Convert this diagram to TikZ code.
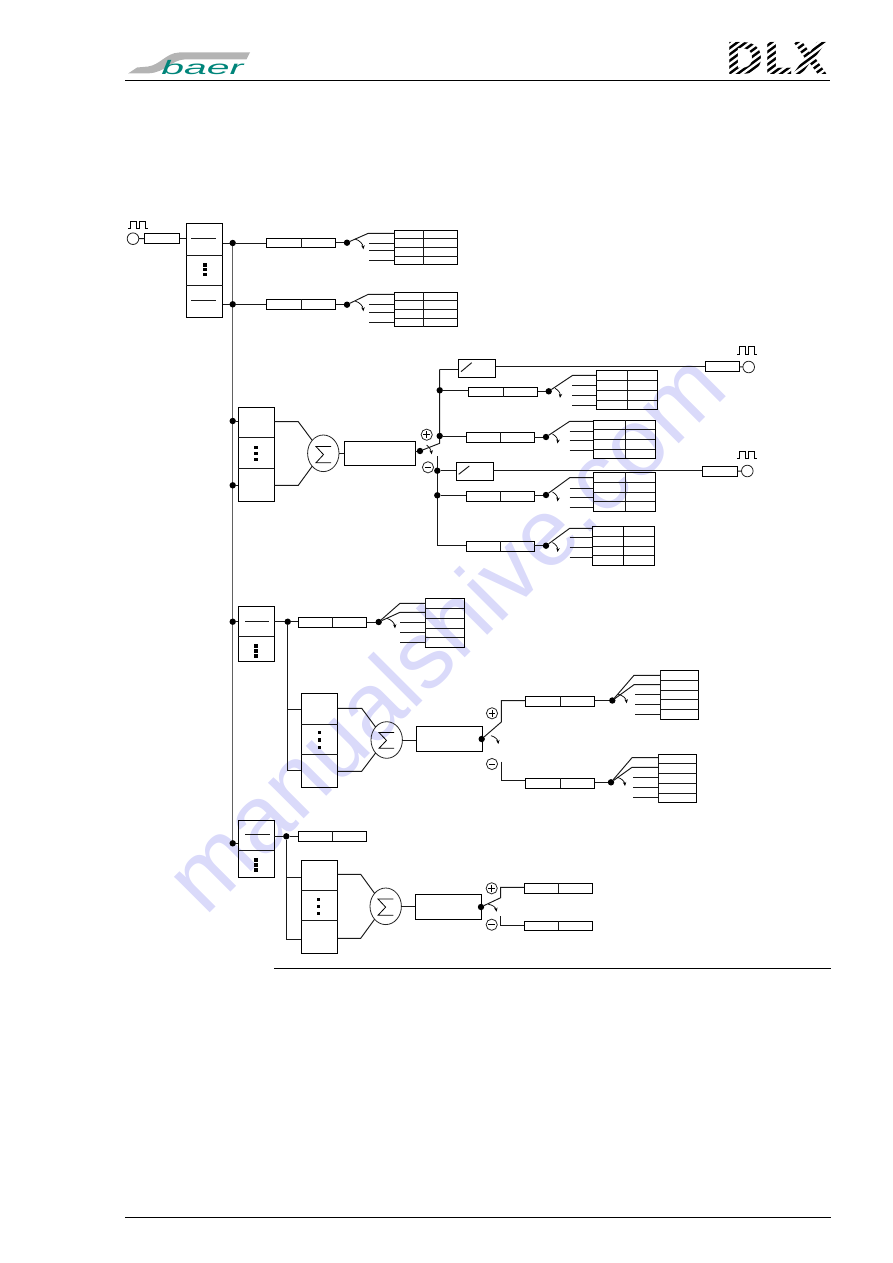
\documentclass[tikz,border=0pt]{standalone}
\usepackage{fontspec}
\setmainfont{Liberation Sans}
\newfontfamily\blockfont{DejaVu Sans}
\usetikzlibrary{arrows.meta,shapes.geometric}
\definecolor{tealbaer}{HTML}{00857A}
\definecolor{swoosh}{HTML}{B4B4B4}
\definecolor{wmark}{HTML}{DADAFA}
\tikzset{
  wire/.style={line width=0.95pt,black!90},
  cell/.style={draw=black,line width=1pt,rectangle,inner sep=0pt,outer sep=0pt,fill=none},
  junction/.style={circle,fill=black,inner sep=0pt,outer sep=0pt,minimum size=6.4pt},
  summer/.style={draw=black!85,line width=0.8pt,ellipse,inner sep=0pt,outer sep=0pt,minimum width=31.4pt,minimum height=36.6pt},
  lamp/.style={draw=black!85,line width=0.8pt,circle,inner sep=0pt,outer sep=0pt,minimum size=11.6pt},
  sign/.style={draw=black!85,line width=0.8pt,circle,inner sep=0pt,outer sep=0pt,minimum size=11.2pt},
  turn/.style={line width=0.7pt,black,-{Stealth[length=4pt,width=3.4pt]}},
  ticksq/.style={fill=black,inner sep=0pt,outer sep=0pt,rectangle},
}
% rectangle node given by its corners: name, x1, y1, x2, y2
\newcommand\boxat[5]{%
  \pgfmathsetmacro\bw{#4-(#2)}\pgfmathsetmacro\bh{#5-(#3)}%
  \node[cell,anchor=north west,minimum width=\bw pt,minimum height=\bh pt] (#1) at (#2,#3) {};}
% two-part register: name, x1, xdiv, x2, y1, y2
\newcommand\regbox[6]{%
  \boxat{#1}{#2}{#5}{#4}{#6}
  \draw[wire] (#3,#5) -- (#3,#6);}
% selector table: name, x1, xdiv, x2, y1, y2, then list of inner rows
\newcommand\tabbox[7]{%
  \boxat{#1}{#2}{#5}{#4}{#6}
  \draw[wire] (#3,#5) -- (#3,#6);
  \foreach \ry in {#7} {\draw[wire] (#2,\ry) -- (#4,\ry);}}
% pulse train symbol: left x, top y, bottom y
\newcommand\pulses[3]{%
  \draw[line width=0.8pt] (#1,#3) -- ++(1.7,0) -- (#1+1.7,#2) -- (#1+8,#2) -- (#1+8,#3) -- (#1+10.7,#3)
    -- (#1+10.7,#2) -- (#1+17,#2) -- (#1+17,#3) -- (#1+19.4,#3);}
% sigma glyph: x1, y1, x2, y2
\newcommand\sigmamark[4]{%
  \draw[line width=0.8pt,line join=miter] (#3,#2) -- (#1,#2) -- ({(#1+#3)/2},{(#2+#4)/2}) -- (#1,#4) -- (#3,#4);}
% three stacked squares: x, y1, y2, y3, size
\newcommand\vdotsq[5]{%
  \foreach \dy in {#2,#3,#4} {\node[ticksq,minimum size=#5pt] at (#1,\dy) {};}}
\begin{document}
\begin{tikzpicture}[x=1pt,y=-1pt]
\useasboundingbox (0,0) rectangle (893,1263);

% background lettering
\node[wmark,font=\fontsize{95.5}{95.5}\selectfont,rotate=45,anchor=base,inner sep=0pt] (wm) at (468.5,655) {manualshive.com};

% page header and footer
\fill[swoosh] (128,73.5) -- (149,73.3) .. controls (165,72.5) and (172,60) .. (184,59.5) -- (246.5,59.3) -- (250,52.5) -- (179,52.5)
  .. controls (166,53) and (160,65) .. (148,66.5) -- (137,67.5) -- cycle;
\node[tealbaer,font=\itshape\fontsize{19.5}{19.5}\selectfont,xscale=2.1,anchor=base west,inner sep=0pt] (brand) at (161,74.3) {baer};
\node[font=\blockfont\bfseries\fontsize{44}{44}\selectfont,xscale=1.05,anchor=base west,inner sep=0pt] (dlx) at (725,74.3) {DLX};
\begin{scope}
  \clip (724,38) rectangle (832,78);
  \foreach \k in {0,...,20} {
    \fill[white] (680+\k*8.6,80) -- (684+\k*8.6,80) -- (741+\k*8.6,38) -- (737+\k*8.6,38) -- cycle;
  }
\end{scope}
\draw[line width=0.9pt] (125,80.5) coordinate (ha) -- (830,80.5) coordinate (hb);
\draw[line width=0.9pt] (274,968.3) coordinate (ma) -- (831,968.3) coordinate (mb);
\draw[line width=0.9pt] (125,1217) coordinate (fa) -- (831,1217) coordinate (fb);

% main clock input and first stack
\pulses{128.3}{221}{228.3}
\node[lamp] (clk0) at (133,238.7) {};
\boxat{clkbox0}{144.3}{233.3}{179.7}{243.3}
\draw[wire] (clk0) -- (clkbox0);
\boxat{st0}{186.3}{223.3}{222.7}{317.3}
\draw[wire] (clkbox0.east) -- (st0.west |- clkbox0.east);
\draw[wire] (186.3,255.3) -- (222.7,255.3) (186.3,285.3) -- (222.7,285.3);
\draw[wire] (191,238.3) -- (216,238.3) (191,300) -- (216,300);
\vdotsq{205}{265}{269.6}{274.3}{3.4}

% supply rail
\coordinate (railT) at (232.7,243);
\coordinate (railB) at (232.7,843.3);
\draw[line width=1pt,black!62] (railT) -- (railB);
\node[junction] (r1) at (232.7,243) {};
\node[junction] (r2) at (232.7,304.3) {};
\node[junction] (r3) at (232.7,421) {};
\node[junction] (r4) at (232.7,485.3) {};
\node[junction] (r5) at (232.7,621.7) {};
\node[junction] (r6) at (232.7,843.3) {};

% first channel
\regbox{a1}{266.3}{301.3}{335.7}{238.3}{247.7}
\node[junction] (a1j) at (347,242.7) {};
\tabbox{a1t}{394.3}{423.3}{457.7}{230.3}{264.7}{238.3,247.7,256.7}
\draw[wire] (st0.east |- r1) -- (r1) -- (a1.west |- r1);
\draw[wire] (a1.east |- a1j) -- (a1j);
\draw[wire] (a1j) -- (368.3,233.3) -- (a1t.west |- 0,233.3);
\draw[wire] (369,243) -- (393.5,243) (369,250.3) -- (393.5,250.3) (369,260.3) -- (393.5,260.3);
\draw[turn] (355,239) to[bend left=35] (363.3,249.3);

% second channel
\regbox{a2}{266.3}{301.3}{335.7}{299.3}{309.3}
\node[junction] (a2j) at (347,304.7) {};
\tabbox{a2t}{394.3}{423.3}{457.7}{292.3}{326.7}{300.3,309.7,318}
\draw[wire] (st0.east |- r2) -- (r2) -- (a2.west |- r2);
\draw[wire] (a2.east |- a2j) -- (a2j);
\draw[wire] (a2j) -- (368.3,294.3) -- (a2t.west |- 0,294.3);
\draw[wire] (369,304.3) -- (393.5,304.3) (369,312.3) -- (393.5,312.3) (369,322.3) -- (393.5,322.3);
\draw[turn] (355,301) to[bend left=35] (363.3,311.3);

% summing group A
\boxat{st1}{238.3}{407.3}{274.3}{501.3}
\draw[wire] (238.3,437.3) -- (274.3,437.3) (238.3,468.3) -- (274.3,468.3);
\vdotsq{256}{447.7}{453.7}{459.3}{3.2}
\draw[wire] (r3) -- (st1.west |- r3);
\draw[wire] (r4) -- (st1.west |- r4);
\node[summer] (s1) at (323.3,453.3) {};
\sigmamark{316}{446.5}{331}{462.7}
\draw[wire] (274.3,421.7) -- (298.3,421.7) -- (s1.north west);
\draw[wire] (274.3,485.3) -- (298.3,485.3) -- (s1.south west);
\boxat{m1}{344.3}{441.3}{415.3}{465.3}
\draw[wire] (s1) -- (m1.west |- s1);
\node[junction] (m1j) at (420,451) {};
\draw[wire] (m1.east |- m1j) -- (m1j);
\node[sign] (p1) at (426.7,434.7) {};
\node[sign] (n1) at (428,467.3) {};
\draw[line width=0.8pt] (423.3,434.7) -- (430.1,434.7) (426.7,431.3) -- (426.7,438.1);
\draw[line width=0.8pt] (424.6,467.3) -- (431.4,467.3);
\draw[turn] (426.7,445) to[bend left=20] (431.7,454.3);
\coordinate (upT) at (439.7,369.3);
\coordinate (upB) at (439.7,443.3);
\draw[wire] (m1j) -- (upB) -- (upT);
\node[junction] (u1) at (439.7,390.3) {};
\node[junction] (u2) at (439.7,436) {};
\boxat{cmpA}{458.3}{359.3}{495.7}{377.3}
\draw[wire] (upT) -- (cmpA.west |- upT);
\draw[wire] (461,371.7) -- (471.7,362.7);
\boxat{clkbox1}{705.3}{361.3}{739.7}{371.3}
\draw[wire] (cmpA.east |- clkbox1.west) -- (clkbox1.west);
\node[lamp] (clk1) at (748.7,367) {};
\draw[wire] (clkbox1) -- (clk1);
\pulses{737.3}{346.7}{354.7}

\regbox{b1}{468.3}{503.3}{537.7}{387.7}{396.7}
\draw[wire] (u1) -- (b1.west |- u1);
\node[junction] (b1j) at (548.7,391.3) {};
\draw[wire] (b1.east |- b1j) -- (b1j);
\tabbox{b1t}{596.3}{627.3}{657.3}{370.3}{409.3}{380.3,390.3,400.3}
\draw[wire] (b1j) -- (572.7,375.3) -- (b1t.west |- 0,375.3);
\draw[wire] (572,385.3) -- (596,385.3) (572,395.3) -- (596,395.3) (572,405.3) -- (596,405.3);
\draw[turn] (555,388.3) to[bend left=35] (560,397.8);

\regbox{b2}{466.3}{500.3}{534.3}{432.3}{442.3}
\draw[wire] (u2) -- (b2.west |- u2);
\node[junction] (b2j) at (546,437) {};
\draw[wire] (b2.east |- b2j) -- (b2j);
\tabbox{b2t}{593.3}{625.7}{655.3}{420.3}{458.3}{429.3,439.3,449.3}
\draw[wire] (b2j) -- (569.7,421.3) -- (b2t.west |- 0,421.3);
\draw[wire] (569.7,431.3) -- (593,431.3) (569.7,440.3) -- (593,440.3) (569.7,450.3) -- (593,450.3);
\draw[turn] (552.5,434) to[bend left=35] (557.5,443.5);

% lower half of group A
\coordinate (loT) at (437.3,456);
\coordinate (loB) at (437.3,545);
\draw[wire] (loT) -- (loB);
\node[junction] (l1) at (437.3,470.7) {};
\node[junction] (l2) at (437.3,495.3) {};
\boxat{cmpB}{456.3}{462.3}{493.3}{480.3}
\draw[wire] (l1) -- (cmpB.west |- l1);
\draw[wire] (458.7,474.3) -- (469.3,466);
\boxat{clkbox2}{702.3}{466.3}{737.7}{476.3}
\draw[wire] (cmpB.east |- l1) -- (clkbox2.west |- l1);
\node[lamp] (clk2) at (747.3,471) {};
\draw[wire] (clkbox2) -- (clk2);
\pulses{737.3}{451}{458.7}

\regbox{b3}{466.3}{500.3}{534.3}{491.3}{501.3}
\draw[wire] (l2) -- (b3.west |- l2);
\node[junction] (b3j) at (546,495) {};
\draw[wire] (b3.east |- b3j) -- (b3j);
\tabbox{b3t}{593.3}{625.7}{655.3}{472.3}{511.3}{482.3,492.3,501.3}
\draw[wire] (b3j) -- (569.7,477.7) -- (b3t.west |- 0,477.7);
\draw[wire] (569.7,488.3) -- (593,488.3) (569.7,497.3) -- (593,497.3) (569.7,507.3) -- (593,507.3);
\draw[turn] (552.5,492) to[bend left=35] (557.5,501.5);

\regbox{b4}{466.3}{500.3}{534.3}{541.3}{551.3}
\draw[wire] (loB) -- (b4.west |- loB);
\node[junction] (b4j) at (546,545.7) {};
\draw[wire] (b4.east |- b4j) -- (b4j);
\tabbox{b4t}{592.3}{623.7}{654.3}{526.3}{565.3}{536.3,546.3,555.7}
\draw[line width=1.5pt] (623.7,526.3) -- (623.7,565.3);
\draw[wire] (b4j) -- (569.7,528.3) -- (b4t.west |- 0,528.3);
\draw[wire] (569.7,537.3) -- (592,537.3) (569.7,547.3) -- (592,547.3) (569.7,557) -- (592,557);
\draw[turn] (552.5,542.5) to[bend left=35] (557.5,552);

% group B
\boxat{st2}{238.3}{606.3}{274.3}{661.3}
\draw[wire] (238.3,636.3) -- (274.3,636.3);
\draw[wire] (245,621.3) -- (269.3,621.3);
\vdotsq{256}{646}{651}{656}{4}
\draw[wire] (r5) -- (st2.west |- r5);
\node[junction] (c0) at (287.7,621.7) {};
\regbox{c1}{298.3}{332.7}{366.7}{617.3}{627.3}
\draw[wire] (st2.east |- c0) -- (c0) -- (c1.west |- c0);
\node[junction] (c1j) at (378.7,622) {};
\draw[wire] (c1.east |- c1j) -- (c1j);
\tabbox{c1t}{425.3}{425.3}{464.3}{598.3}{647.3}{608.3,618.3,628.3,637.7}
\draw[wire] (c1j) -- (400,603.3) -- (c1t.west |- 0,603.3);
\draw[wire] (c1j) -- (400,612.3) -- (c1t.west |- 0,612.3);
\draw[wire] (400,622.3) -- (425,622.3) (400,632.3) -- (425,632.3) (400,642.3) -- (425,642.3);
\draw[turn] (386.7,618.3) to[bend left=35] (395,628.3);

\boxat{st3}{301.3}{693.3}{337.7}{787.3}
\draw[wire] (301.3,724.3) -- (337.7,724.3) (301.3,754.3) -- (337.7,754.3);
\vdotsq{319.3}{732.7}{740}{747.3}{3.2}
\coordinate (c0b) at (287.7,770.3);
\draw[wire] (c0) -- (c0b) -- (st3.west |- c0b);
\draw[wire] (287.7,709.3) -- (st3.west |- 0,709.3);
\node[summer] (s2) at (386.7,740) {};
\sigmamark{379}{732.5}{394}{748.3}
\draw[wire] (337.7,708.3) -- (361.7,708.3) -- (s2.north west);
\draw[wire] (337.7,771.3) -- (361.7,771.3) -- (s2.south west);
\boxat{m2}{416}{726.3}{482.3}{751.3}
\draw[wire] (s2) -- (m2.west |- s2);
\node[junction] (m2j) at (481.7,739) {};
\node[sign] (p2) at (492,713.3) {};
\node[sign] (n2) at (492,764) {};
\draw[line width=0.8pt] (488.6,713.3) -- (495.4,713.3) (492,709.9) -- (492,716.7);
\draw[line width=0.8pt] (488.6,764) -- (495.4,764);
\draw[turn] (491,735.7) to[bend left=35] (498.3,744);
\regbox{d1}{525.3}{560.3}{594.7}{696}{706.3}
\draw[wire] (m2j) -- (501.3,722) -- (501.3,700.7) -- (d1.west |- 0,700.7);
\node[junction] (d1j) at (612.3,700.5) {};
\draw[wire] (d1.east |- d1j) -- (d1j);
\tabbox{d1t}{660.3}{660.3}{698.7}{670.3}{719.7}{680.3,690.3,699.3,709.7}
\draw[wire] (d1j) -- (634,675.3) -- (d1t.west |- 0,675.3);
\draw[wire] (d1j) -- (634,684.7) -- (d1t.west |- 0,684.7);
\draw[wire] (635,694) -- (660,694) (635,704) -- (660,704) (635,714) -- (660,714);
\draw[turn] (618.3,694.3) to[bend left=35] (626.7,703.3);
\regbox{d2}{525.3}{560.3}{594.7}{778.3}{788.3}
\coordinate (n2t) at (501.3,761.7);
\draw[wire] (n2t) -- (501.3,780) -- (d2.west |- 0,780);
\node[junction] (d2j) at (611,782.3) {};
\draw[wire] (d2.east |- d2j) -- (d2j);
\tabbox{d2t}{658.3}{658.3}{696.7}{754.3}{802.7}{763.3,773.3,783.3,793.3}
\draw[wire] (d2j) -- (632,757.7) -- (d2t.west |- 0,757.7);
\draw[wire] (d2j) -- (632,767.3) -- (d2t.west |- 0,767.3);
\draw[wire] (633,777.3) -- (658,777.3) (633,787.3) -- (658,787.3) (633,797.3) -- (658,797.3);
\draw[turn] (617.3,777.3) to[bend left=35] (625,786);

% group C
\boxat{st4}{238.3}{820.3}{274.3}{877.3}
\draw[wire] (238.3,850.7) -- (274.3,850.7);
\draw[wire] (245,834.7) -- (270,834.7);
\vdotsq{256}{860}{865}{870}{4}
\draw[wire] (r6) -- (st4.west |- r6);
\node[junction] (e0) at (286.3,836.3) {};
\regbox{e1}{298.3}{332.7}{366.7}{831.3}{841.3}
\draw[wire] (st4.east |- e0) -- (e0) -- (e1.west |- e0);
\boxat{st5}{301.3}{860.3}{337.7}{953.3}
\draw[wire] (301.3,890.3) -- (337.7,890.3) (301.3,920.3) -- (337.7,920.3);
\vdotsq{318.3}{899.3}{906.3}{913.3}{3.2}
\coordinate (e0b) at (286.3,939.3);
\draw[wire] (e0) -- (e0b) -- (st5.west |- e0b);
\draw[wire] (286.3,877.3) -- (st5.west |- 0,877.3);
\node[summer] (s3) at (385.7,906.3) {};
\sigmamark{378}{899}{393.3}{915.3}
\draw[wire] (337.7,874.3) -- (360.7,874.3) -- (s3.north west);
\draw[wire] (337.7,938.3) -- (360.7,938.3) -- (s3.south west);
\boxat{m3}{415.3}{894.3}{481.7}{919.3}
\draw[wire] (s3) -- (m3.west |- s3);
\node[junction] (m3j) at (481,907) {};
\node[sign] (p3) at (491.7,888.3) {};
\node[sign] (n3) at (491.7,924.7) {};
\draw[line width=0.8pt] (488.3,888.3) -- (495.1,888.3) (491.7,884.9) -- (491.7,891.7);
\draw[line width=0.8pt] (488.3,924.7) -- (495.1,924.7);
\draw[turn] (488.3,904.3) to[bend left=35] (496.7,911.7);
\regbox{g1}{524.3}{558.3}{592.7}{883.3}{893.3}
\draw[wire] (m3j) -- (500.7,897.7) -- (500.7,887.3) -- (g1.west |- 0,887.3);
\regbox{g2}{524.3}{558.3}{592.7}{921.3}{930.3}
\coordinate (n3t) at (500.7,916);
\draw[wire] (n3t) -- (500.7,925.3) -- (g2.west |- 0,925.3);
\end{tikzpicture}
\end{document}
